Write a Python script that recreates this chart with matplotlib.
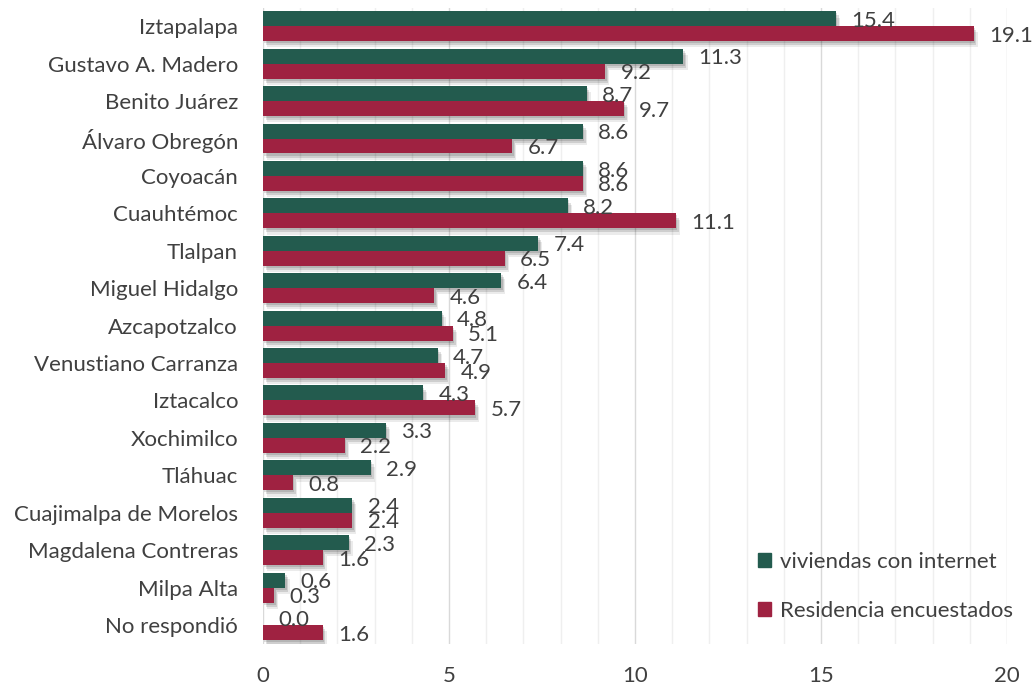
import numpy as np
import matplotlib
matplotlib.use("Agg")
import matplotlib.pyplot as plt
import matplotlib.patheffects as pe
from matplotlib.patches import Patch

plt.rcParams['font.family'] = ['Lato', 'DejaVu Sans']

alcaldias = ["Iztapalapa", "Gustavo A. Madero", "Benito Juárez", "Álvaro Obregón",
             "Coyoacán", "Cuauhtémoc", "Tlalpan", "Miguel Hidalgo", "Azcapotzalco",
             "Venustiano Carranza", "Iztacalco", "Xochimilco", "Tláhuac",
             "Cuajimalpa de Morelos", "Magdalena Contreras", "Milpa Alta", "No respondió"]
internet = [15.4, 11.3, 8.7, 8.6, 8.6, 8.2, 7.4, 6.4, 4.8, 4.7, 4.3, 3.3, 2.9, 2.4, 2.3, 0.6, 0.0]
residencia = [19.1, 9.2, 9.7, 6.7, 8.6, 11.1, 6.5, 4.6, 5.1, 4.9, 5.7, 2.2, 0.8, 2.4, 1.6, 0.3, 1.6]
series_names = ["viviendas con internet", "Residencia encuestados"]

verde = "#235b4e"
guinda = "#9f2241"
texto = "#404040"
fs = 16

fig = plt.figure(figsize=(10.34, 6.85), dpi=100)
ax = fig.add_axes([0.2544, 0.0603, 0.7195, 0.9287])

y = np.arange(len(alcaldias))
h = 0.4
# soft drop shadow: a few stacked translucent copies
shadow = [pe.SimplePatchShadow(offset=(1, -1.5), shadow_rgbFace="#000000", alpha=0.12),
          pe.SimplePatchShadow(offset=(2, -3), shadow_rgbFace="#000000", alpha=0.12),
          pe.SimplePatchShadow(offset=(3, -4.5), shadow_rgbFace="#000000", alpha=0.08),
          pe.Normal()]

b1 = ax.barh(y - h / 2, internet, height=h, color=verde, zorder=3)
b2 = ax.barh(y + h / 2, residencia, height=h, color=guinda, zorder=3)
for b in list(b1) + list(b2):
    b.set_path_effects(shadow)

for yi, v in zip(y, internet):
    ax.annotate(f"{v:.1f}", (v, yi - h / 2), xytext=(11, -1.5), textcoords="offset points",
                va="center", ha="left", fontsize=fs, color=texto, zorder=4)
for yi, v in zip(y, residencia):
    ax.annotate(f"{v:.1f}", (v, yi + h / 2), xytext=(11, -1.5), textcoords="offset points",
                va="center", ha="left", fontsize=fs, color=texto, zorder=4)

ax.set_xlim(0, 20)
ax.set_ylim(len(alcaldias) - 0.5, -0.5)
ax.set_yticks(y)
ax.set_yticklabels(alcaldias, fontsize=fs, color=texto)
ax.set_xticks([0, 5, 10, 15, 20])
ax.set_xticks(np.arange(0, 21, 1), minor=True)
ax.tick_params(axis="x", which="both", length=0, pad=16, labelsize=fs, labelcolor=texto)
ax.tick_params(axis="y", length=0, pad=18)
ax.grid(axis="x", which="major", color="#d9d9d9", linewidth=1, zorder=0)
ax.grid(axis="x", which="minor", color="#efefef", linewidth=1, zorder=0)
ax.set_axisbelow(True)
for s in ax.spines.values():
    s.set_visible(False)

handles = [Patch(color=verde), Patch(color=guinda)]
ax.legend(handles, series_names, loc="lower right", bbox_to_anchor=(1.035, 0.005), frameon=False,
          fontsize=fs, labelcolor=texto, handlelength=0.6, handleheight=0.6,
          handletextpad=0.4, labelspacing=1.3)

fig.savefig("out.png", dpi=100)
